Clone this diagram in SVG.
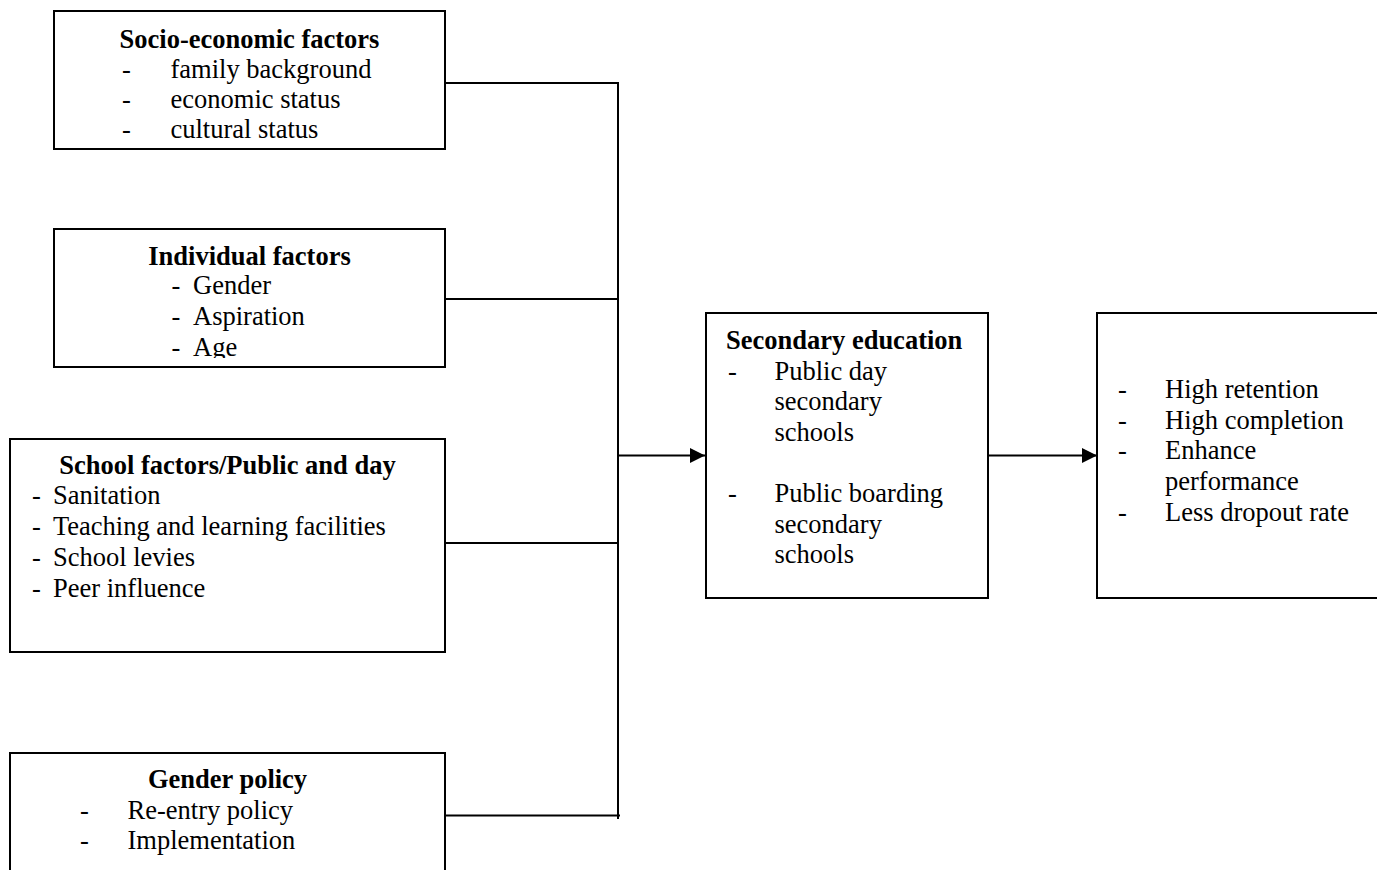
<svg xmlns="http://www.w3.org/2000/svg" width="1377" height="870" viewBox="0 0 1377 870">
<style>
.box{fill:#fff;stroke:#000;stroke-width:2}
.t{font-family:"Liberation Serif","Times New Roman",serif;font-size:26.5px;fill:#000}
.b{font-weight:bold}
.c{text-anchor:middle}
.ln{stroke:#000;stroke-width:2;fill:none}
</style>
<defs>
<marker id="ah" markerUnits="userSpaceOnUse" markerWidth="16" markerHeight="16" refX="15" refY="7.5" orient="auto">
<path d="M0,0 L15,7.5 L0,15 Z" fill="#000"/>
</marker>
<clipPath id="clipAge"><rect x="0" y="0" width="1377" height="358"/></clipPath>
</defs>
<rect width="1377" height="870" fill="#fff"/>

<g id="socio">
<rect class="box" x="54" y="11" width="391" height="138"/>
<text class="t b c" x="249.5" y="47.5">Socio-economic factors</text>
<text class="t" x="122" y="77.5">-</text><text class="t" x="170.5" y="77.5">family background</text>
<text class="t" x="122" y="107.5">-</text><text class="t" x="170.5" y="107.5">economic status</text>
<text class="t" x="122" y="137.5">-</text><text class="t" x="170.5" y="137.5">cultural status</text>
</g>

<g id="individual">
<rect class="box" x="54" y="229" width="391" height="138"/>
<text class="t b c" x="249.5" y="265">Individual factors</text>
<text class="t" x="171.5" y="293.5">-</text><text class="t" x="193" y="293.5">Gender</text>
<text class="t" x="171.5" y="324.5">-</text><text class="t" x="193" y="324.5">Aspiration</text>
<g clip-path="url(#clipAge)"><text class="t" x="171.5" y="355.5">-</text><text class="t" x="193" y="355.5">Age</text></g>
</g>

<g id="school">
<rect class="box" x="10" y="439" width="435" height="213"/>
<text class="t b c" x="227.5" y="473.5">School factors/Public and day</text>
<text class="t" x="32" y="504">-</text><text class="t" x="53" y="504">Sanitation</text>
<text class="t" x="32" y="535">-</text><text class="t" x="53" y="535">Teaching and learning facilities</text>
<text class="t" x="32" y="566">-</text><text class="t" x="53" y="566">School levies</text>
<text class="t" x="32" y="597">-</text><text class="t" x="53" y="597">Peer influence</text>
</g>

<g id="gender">
<rect class="box" x="10" y="753" width="435" height="140"/>
<text class="t b c" x="227.5" y="788">Gender policy</text>
<text class="t" x="80" y="819">-</text><text class="t" x="127.5" y="819">Re-entry policy</text>
<text class="t" x="80" y="849">-</text><text class="t" x="127.5" y="849">Implementation</text>
</g>

<g id="secondary">
<rect class="box" x="706" y="313" width="282" height="285"/>
<text class="t b" x="726" y="349">Secondary education</text>
<text class="t" x="728" y="379.5">-</text><text class="t" x="774.5" y="379.5">Public day</text>
<text class="t" x="774.5" y="410">secondary</text>
<text class="t" x="774.5" y="440.5">schools</text>
<text class="t" x="728" y="502">-</text><text class="t" x="774.5" y="502">Public boarding</text>
<text class="t" x="774.5" y="532.5">secondary</text>
<text class="t" x="774.5" y="563">schools</text>
</g>

<g id="outcomes">
<rect class="box" x="1097" y="313" width="290" height="285"/>
<text class="t" x="1118" y="398">-</text><text class="t" x="1165" y="398">High retention</text>
<text class="t" x="1118" y="428.5">-</text><text class="t" x="1165" y="428.5">High completion</text>
<text class="t" x="1118" y="459">-</text><text class="t" x="1165" y="459">Enhance</text>
<text class="t" x="1165" y="489.5">performance</text>
<text class="t" x="1118" y="520.5">-</text><text class="t" x="1165" y="520.5">Less dropout rate</text>
</g>

<g id="connectors">
<line class="ln" x1="445" y1="83" x2="619" y2="83"/>
<line class="ln" x1="445" y1="299" x2="619" y2="299"/>
<line class="ln" x1="445" y1="543" x2="619" y2="543"/>
<line class="ln" x1="445" y1="815.5" x2="620" y2="815.5"/>
<line class="ln" x1="618" y1="82" x2="618" y2="819"/>
<line class="ln" x1="618" y1="455.5" x2="705" y2="455.5" marker-end="url(#ah)"/>
<line class="ln" x1="988" y1="455.5" x2="1097" y2="455.5" marker-end="url(#ah)"/>
</g>
</svg>
